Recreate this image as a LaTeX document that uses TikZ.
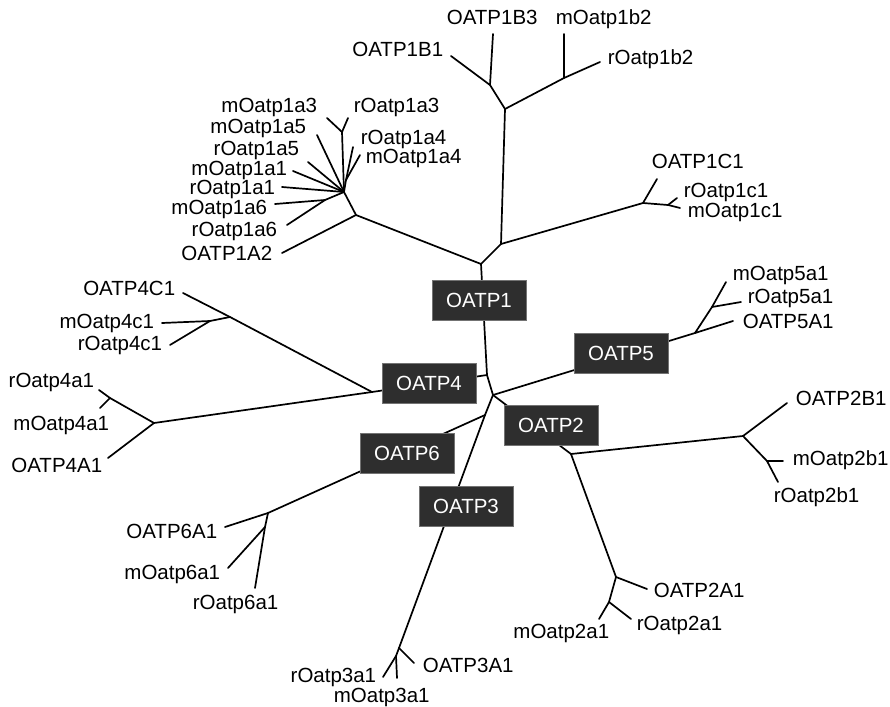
\documentclass[tikz,border=0pt]{standalone}
\usepackage{fontspec}
\setmainfont{Liberation Sans}
\usepackage{tikz}
\usetikzlibrary{positioning}

\begin{document}
\begin{tikzpicture}[x=1pt,y=-1pt,line width=1.7pt,line cap=round,
  fam node/.style={rectangle,fill=black!82,draw=black!55,line width=1pt,text=white,
    minimum width=94pt,minimum height=40pt,inner sep=0pt,font=\fontsize{20.5}{24}\selectfont},
  leaf node/.style={inner sep=0pt,text height=13pt,text depth=3pt,font=\fontsize{20.5}{24}\selectfont}]

	\useasboundingbox (0,0) rectangle (890,706);

	% inner junctions
	\coordinate (j1) at (481,264);
	\coordinate (a) at (487,375);
	\coordinate (c) at (493,395);
	\coordinate (d) at (485,415);
	\coordinate (j4) at (372,392);
	\coordinate (j5) at (695,333);
	\coordinate (j2) at (571,454);
	\coordinate (j6) at (268,513);
	\coordinate (j3) at (399,648);

	% OATP1 subtree
	\coordinate (j1a) at (356,215);
	\coordinate (hub) at (344,192);
	\coordinate (j1a6) at (325,200);
	\coordinate (j1a3) at (342,132);
	\coordinate (j1a4) at (346,180);
	\coordinate (j1bc) at (501,244);
	\coordinate (j1b) at (505,109);
	\coordinate (j1b13) at (490,85);
	\coordinate (j1b2) at (564,78);
	\coordinate (j1c) at (643,203);
	\coordinate (j1c1) at (668,205);
	% OATP4 subtree
	\coordinate (j4c) at (230,317);
	\coordinate (j4c1) at (210,321);
	\coordinate (j4a) at (154,423);
	\coordinate (j4a1) at (110,398);
	% OATP5, OATP2, OATP6, OATP3
	\coordinate (j5a) at (712,307);
	\coordinate (j2b) at (743,436);
	\coordinate (j2b1) at (767,461);
	\coordinate (j2a) at (616,577);
	\coordinate (j2a1) at (609,602);
	\coordinate (j6a) at (265,527);
	\coordinate (j3a) at (396,656);

	% leaf ends
	\coordinate (l1B1) at (451,56);
	\coordinate (l1B3) at (493,34);
	\coordinate (lm1b2) at (564,34);
	\coordinate (lr1b2) at (600,62);
	\coordinate (l1C1) at (657,179);
	\coordinate (lr1c1) at (677,198);
	\coordinate (lm1c1) at (680,208);
	\coordinate (lm1a3) at (327,118);
	\coordinate (lr1a3) at (348,118);
	\coordinate (lm1a5) at (317,135);
	\coordinate (lr1a5) at (308,162);
	\coordinate (lm1a1) at (293,171);
	\coordinate (lr1a1) at (282,187);
	\coordinate (lm1a6) at (275,204);
	\coordinate (lr1a6) at (287,225);
	\coordinate (l1A2) at (282,253);
	\coordinate (lr1a4) at (353,147);
	\coordinate (lm1a4) at (360,155);
	\coordinate (l4C1) at (183,293);
	\coordinate (lm4c1) at (162,323);
	\coordinate (lr4c1) at (170,345);
	\coordinate (lr4a1) at (99,390);
	\coordinate (lm4a1) at (100,408);
	\coordinate (l4A1) at (108,458);
	\coordinate (lm5a1) at (726,282);
	\coordinate (lr5a1) at (741,302);
	\coordinate (l5A1) at (733,321);
	\coordinate (l2B1) at (787,403);
	\coordinate (lm2b1) at (783,461);
	\coordinate (lr2b1) at (778,482);
	\coordinate (l2A1) at (647,589);
	\coordinate (lr2a1) at (631,619);
	\coordinate (lm2a1) at (599,619);
	\coordinate (l6A1) at (225,527);
	\coordinate (lm6a1) at (228,568);
	\coordinate (lr6a1) at (255,588);
	\coordinate (l3A1) at (414,663);
	\coordinate (lr3a1) at (383,677);
	\coordinate (lm3a1) at (397,678);

	% branches
	\draw (j1) -- (a) -- (c) -- (d);
	\draw (a) -- (j4);
	\draw (c) -- (j5);
	\draw (c) -- (j2);
	\draw (d) -- (j6);
	\draw (d) -- (j3);

	\draw (j1) -- (j1a) -- (hub);
	\draw (j1a) -- (l1A2);
	\draw (hub) -- (j1a6) -- (lm1a6);
	\draw (j1a6) -- (lr1a6);
	\draw (hub) -- (lr1a1);
	\draw (hub) -- (lm1a1);
	\draw (hub) -- (lr1a5);
	\draw (hub) -- (lm1a5);
	\draw (hub) -- (j1a3) -- (lm1a3);
	\draw (j1a3) -- (lr1a3);
	\draw (hub) -- (j1a4) -- (lr1a4);
	\draw (j1a4) -- (lm1a4);
	\draw (j1) -- (j1bc) -- (j1b) -- (j1b13) -- (l1B1);
	\draw (j1b13) -- (l1B3);
	\draw (j1b) -- (j1b2) -- (lr1b2);
	\draw (j1b2) -- (lm1b2);
	\draw (j1bc) -- (j1c) -- (l1C1);
	\draw (j1c) -- (j1c1) -- (lr1c1);
	\draw (j1c1) -- (lm1c1);

	\draw (j4) -- (j4c) -- (l4C1);
	\draw (j4c) -- (j4c1) -- (lm4c1);
	\draw (j4c1) -- (lr4c1);
	\draw (j4) -- (j4a) -- (l4A1);
	\draw (j4a) -- (j4a1) -- (lr4a1);
	\draw (j4a1) -- (lm4a1);

	\draw (j5) -- (l5A1);
	\draw (j5) -- (j5a) -- (lm5a1);
	\draw (j5a) -- (lr5a1);

	\draw (j2) -- (j2b) -- (l2B1);
	\draw (j2b) -- (j2b1) -- (lr2b1);
	\draw (j2b1) -- (lm2b1);
	\draw (j2) -- (j2a) -- (l2A1);
	\draw (j2a) -- (j2a1) -- (lm2a1);
	\draw (j2a1) -- (lr2a1);

	\draw (j6) -- (l6A1);
	\draw (j6) -- (j6a) -- (lm6a1);
	\draw (j6a) -- (lr6a1);

	\draw (j3) -- (l3A1);
	\draw (j3) -- (j3a) -- (lr3a1);
	\draw (j3a) -- (lm3a1);

	% family boxes
	\node[fam node] (oatp1) at (479,300) {OATP1};
	\node[fam node] (oatp5) at (621,353) {OATP5};
	\node[fam node] (oatp4) at (429,383) {OATP4};
	\node[fam node] (oatp2) at (551,425) {OATP2};
	\node[fam node] (oatp6) at (407,453) {OATP6};
	\node[fam node] (oatp3) at (466,506) {OATP3};

	% leaf labels
	\node[leaf node,anchor=east] (t1B1) at (444,52) {OATP1B1};
	\node[leaf node,anchor=west] (t1B3) at (446,20) {OATP1B3};
	\node[leaf node,anchor=west] (tm1b2) at (555,20) {mOatp1b2};
	\node[leaf node,anchor=west] (tr1b2) at (607,60) {rOatp1b2};
	\node[leaf node,anchor=west] (t1C1) at (651,163) {OATP1C1};
	\node[leaf node,anchor=west] (tr1c1) at (683,192) {rOatp1c1};
	\node[leaf node,anchor=west] (tm1c1) at (687,212) {mOatp1c1};
	\node[leaf node,anchor=east] (tm1a3) at (318,108) {mOatp1a3};
	\node[leaf node,anchor=west] (tr1a3) at (353,107) {rOatp1a3};
	\node[leaf node,anchor=east] (tm1a5) at (307,128) {mOatp1a5};
	\node[leaf node,anchor=east] (tr1a5) at (300,150) {rOatp1a5};
	\node[leaf node,anchor=east] (tm1a1) at (288,170) {mOatp1a1};
	\node[leaf node,anchor=east] (tr1a1) at (276,189) {rOatp1a1};
	\node[leaf node,anchor=east] (tm1a6) at (268,209) {mOatp1a6};
	\node[leaf node,anchor=east] (tr1a6) at (278,231) {rOatp1a6};
	\node[leaf node,anchor=east] (t1A2) at (273,255) {OATP1A2};
	\node[leaf node,anchor=west] (tr1a4) at (360,139) {rOatp1a4};
	\node[leaf node,anchor=west] (tm1a4) at (365,158) {mOatp1a4};
	\node[leaf node,anchor=east] (t4C1) at (176,290) {OATP4C1};
	\node[leaf node,anchor=east] (tm4c1) at (155,323) {mOatp4c1};
	\node[leaf node,anchor=east] (tr4c1) at (163,345) {rOatp4c1};
	\node[leaf node,anchor=east] (tr4a1) at (95,382) {rOatp4a1};
	\node[leaf node,anchor=east] (tm4a1) at (110,425) {mOatp4a1};
	\node[leaf node,anchor=east] (t4A1) at (103,467) {OATP4A1};
	\node[leaf node,anchor=west] (tm5a1) at (732,275) {mOatp5a1};
	\node[leaf node,anchor=west] (tr5a1) at (747,298) {rOatp5a1};
	\node[leaf node,anchor=west] (t5A1) at (742,323) {OATP5A1};
	\node[leaf node,anchor=west] (t2B1) at (795,400) {OATP2B1};
	\node[leaf node,anchor=west] (tm2b1) at (792,460) {mOatp2b1};
	\node[leaf node,anchor=west] (tr2b1) at (773,497) {rOatp2b1};
	\node[leaf node,anchor=west] (t2A1) at (653,592) {OATP2A1};
	\node[leaf node,anchor=west] (tr2a1) at (636,625) {rOatp2a1};
	\node[leaf node,anchor=east] (tm2a1) at (610,633) {mOatp2a1};
	\node[leaf node,anchor=east] (t6A1) at (218,533) {OATP6A1};
	\node[leaf node,anchor=east] (tm6a1) at (221,574) {mOatp6a1};
	\node[leaf node,anchor=west] (tr6a1) at (192,604) {rOatp6a1};
	\node[leaf node,anchor=west] (t3A1) at (422,667) {OATP3A1};
	\node[leaf node,anchor=east] (tr3a1) at (377,677) {rOatp3a1};
	\node[leaf node,anchor=west] (tm3a1) at (333,697) {mOatp3a1};
\end{tikzpicture}
\end{document}
